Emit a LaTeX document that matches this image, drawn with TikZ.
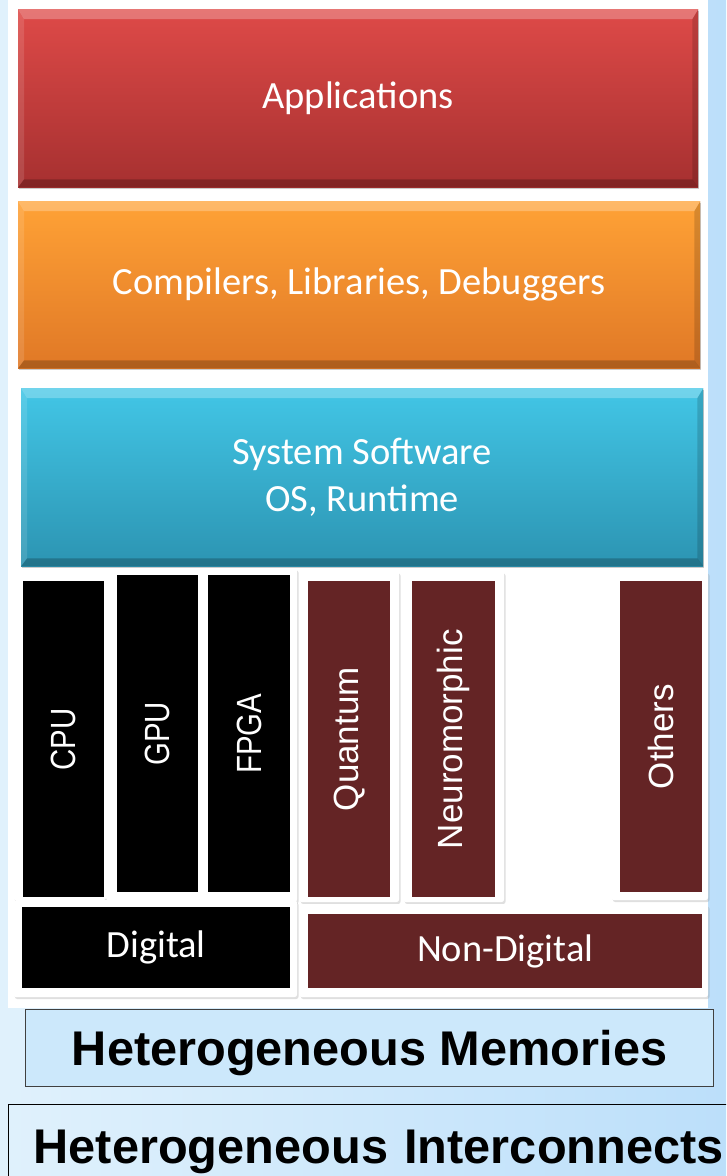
\documentclass[tikz,border=0pt]{standalone}
\usepackage{fontspec}
\setmainfont{Carlito}
\newfontfamily\arialfont{Liberation Sans}
\usetikzlibrary{shadows,positioning}

\definecolor{appTop}{RGB}{222,74,72}
\definecolor{appBot}{RGB}{166,48,48}
\definecolor{cmpTop}{RGB}{255,162,54}
\definecolor{cmpBot}{RGB}{224,120,38}
\definecolor{sysTop}{RGB}{66,198,230}
\definecolor{sysBot}{RGB}{44,148,178}
\definecolor{maroon}{RGB}{100,36,37}
\definecolor{skyL}{RGB}{224,241,252}
\definecolor{skyR}{RGB}{188,223,250}
\definecolor{skyM}{RGB}{204,232,251}

% bevelled edge of a layer box
\newcommand{\bevel}[1]{%
  \fill[white,opacity=0.25] (#1.north west) -- (#1.north east) -- ([shift={(-6pt,-10pt)}]#1.north east) -- ([shift={(6pt,-10pt)}]#1.north west) -- cycle;
  \fill[black,opacity=0.22] (#1.south west) -- (#1.south east) -- ([shift={(-6pt,8pt)}]#1.south east) -- ([shift={(6pt,8pt)}]#1.south west) -- cycle;
  \fill[white,opacity=0.12] (#1.north west) -- ([shift={(6pt,-10pt)}]#1.north west) -- ([shift={(6pt,8pt)}]#1.south west) -- (#1.south west) -- cycle;
  \fill[black,opacity=0.15] (#1.north east) -- ([shift={(-6pt,-10pt)}]#1.north east) -- ([shift={(-6pt,8pt)}]#1.south east) -- (#1.south east) -- cycle;
}

\begin{document}
\begin{tikzpicture}[x=1pt,y=-1pt,
  layer/.style={anchor=north west,inner sep=0pt,text=white,align=center,
    font=\fontsize{38.5}{47}\selectfont,
    drop shadow={opacity=0.4,shadow xshift=1pt,shadow yshift=-2pt}},
  card/.style={anchor=north west,inner sep=0pt,fill=white,rounded corners=3pt,
    drop shadow={opacity=0.25,shadow xshift=1.5pt,shadow yshift=-2pt}},
  bar/.style={anchor=north west,inner sep=0pt,minimum width=82pt},
  upright/.style={rotate=90,inner sep=0pt,text=white,font=\arialfont\fontsize{35}{42}\selectfont},
  band/.style={anchor=north west,inner sep=0pt,text=white,font=\fontsize{38.5}{47}\selectfont},
  hetero/.style={anchor=north west,inner sep=0pt,fill=skyM,text height=35pt,text depth=0pt,
    font=\arialfont\bfseries\fontsize{48.7}{58}\selectfont}
]
\useasboundingbox (0,0) rectangle (726,1176);
\clip (0,0) rectangle (726,1176);
\shade[left color=skyL,right color=skyR] (0,0) rectangle (726,1176);
\fill[white] (8,0) rectangle (708,1008);

% software layers
\node[layer,top color=appTop,bottom color=appBot,minimum width=680pt,minimum height=178pt] (apps) at (18,9) {Applications};
\node[layer,top color=cmpTop,bottom color=cmpBot,minimum width=682pt,minimum height=167pt] (comp) at (18,201) {Compilers, Libraries, Debuggers};
\node[layer,top color=sysTop,bottom color=sysBot,minimum width=682pt,minimum height=178pt] (sys) at (21,388) {System Software\\OS, Runtime};
\bevel{apps}
\bevel{comp}
\bevel{sys}

% hardware cards
\node[card,minimum width=93pt,minimum height=327pt] (cpuC) at (13,573) {};
\node[card,minimum width=94pt,minimum height=333pt] (gpuC) at (106,568) {};
\node[card,minimum width=98pt,minimum height=334pt] (fpgaC) at (199,568) {};
\node[card,minimum width=100pt,minimum height=331pt] (quanC) at (299,571) {};
\node[card,minimum width=101pt,minimum height=331pt] (neurC) at (403,571) {};
\node[card,minimum width=97pt,minimum height=329pt] (othC) at (611,571) {};
\node[card,minimum width=284pt,minimum height=97pt] (digC) at (13,900) {};
\node[card,minimum width=409pt,minimum height=93pt] (ndigC) at (299,904) {};

% processors
\node[bar,fill=black,minimum width=81pt,minimum height=316pt] (cpu) at (23,581) {};
\node[bar,fill=black,minimum width=81pt,minimum height=317pt] (gpu) at (117,575) {};
\node[bar,fill=black,minimum height=317pt] (fpga) at (208,575) {};
\node[bar,fill=maroon,minimum height=316pt] (quan) at (308,581) {};
\node[bar,fill=maroon,minimum width=83pt,minimum height=316pt] (neur) at (412,581) {};
\node[bar,fill=maroon,minimum height=311pt] (oth) at (620,581) {};
\node[upright] (cpuT) at (cpu.center) {\scalebox{0.84}[1]{CPU}};
\node[upright] (gpuT) at (gpu.center) {\scalebox{0.84}[1]{GPU}};
\node[upright] (fpgaT) at (fpga.center) {\scalebox{0.84}[1]{FPGA}};
\node[upright] (quanT) at (quan.center) {Quantum};
\node[upright] (neurT) at (neur.center) {Neuromorphic};
\node[upright] (othT) at (oth.center) {Others};

\node[band,fill=black,minimum width=268pt,minimum height=81pt] (dig) at (22,907) {Digital};
\node[band,fill=maroon,minimum width=394pt,minimum height=74pt] (ndig) at (308,914) {Non-Digital};

% memories and interconnects
\node[hetero,draw=black!75,line width=1.2pt,minimum width=688pt,minimum height=77pt] (mem) at (25,1009) {Heterogeneous Memories};
\node[hetero,fill=none,draw=black,line width=1.4pt,minimum width=736pt,minimum height=82pt,text width=736pt,align=left] (net) at (8,1104) {\hspace{25pt}Heterogeneous Interconnects};
\end{tikzpicture}
\end{document}
